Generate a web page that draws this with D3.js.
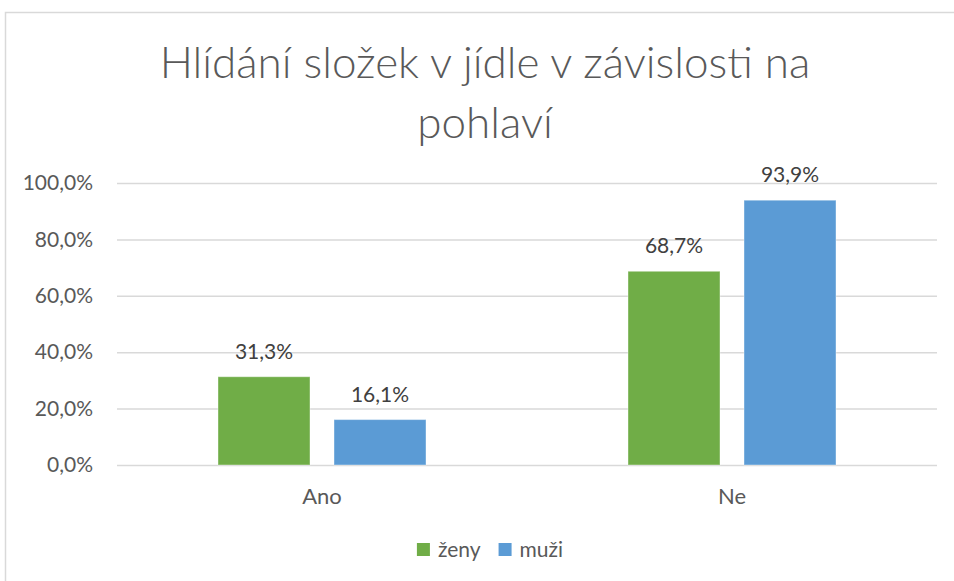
<!DOCTYPE html>
<html>
<head>
<meta charset="utf-8">
<script src="https://cdn.jsdelivr.net/npm/d3@7"></script>
<style>
  body { margin: 0; background: #fff; }
  svg { display: block; font-family: Lato, "Open Sans", sans-serif; }
</style>
</head>
<body>
<script>
// data
let categories = ["Ano", "Ne"]
let seriesNames = ["ženy", "muži"]
let zeny = [31.3, 68.7]
let muzi = [16.1, 93.9]
let yTicks = [0, 20, 40, 60, 80, 100]
let colors = ["#70ad47", "#5b9bd5"]
let titleLines = ["Hlídání složek v jídle v závislosti na", "pohlaví"]

let width = 954
let height = 581

let svg = d3.select("body")
    .append("svg")
    .attr("width", width)
    .attr("height", height)

//chart border (runs past right and bottom edge)
svg.append("rect")
    .attr("x", 5.5)
    .attr("y", 12.5)
    .attr("width", 1000)
    .attr("height", 1000)
    .attr("fill", "none")
    .attr("stroke", "#d9d9d9")
    .attr("stroke-width", 1.5)

//title
svg.append("g")
    .selectAll("text")
    .data(titleLines)
    .enter()
    .append("text")
    .attr("x", 485)
    .attr("y", (d, i) => 78 + i * 60)
    .attr("text-anchor", "middle")
    .attr("fill", "#595959")
    .style("font-size", "44px")
    .style("font-weight", 300)
    .text(d => d)

let plotLeft = 117, plotRight = 937, plotTop = 183, plotBottom = 465

let yScale = d3.scaleLinear()
    .domain([0, 100])
    .range([plotBottom, plotTop])

let xScale = d3.scaleBand()
    .domain(categories)
    .range([plotLeft, plotRight])

let xInner = d3.scaleBand()
    .domain(seriesNames)
    .range([101, 309])
    .paddingInner(0.207)

let fmt = d => d3.format(".1f")(d).replace(".", ",") + "%"

//y axis with gridlines
let yAxis = d3.axisLeft(yScale)
    .tickValues(yTicks)
    .tickSizeInner(-(plotRight - plotLeft))
    .tickSizeOuter(0)
    .tickPadding(24)
    .tickFormat(fmt)

let gy = svg.append("g")
    .attr("transform", `translate(${plotLeft}, 0)`)
    .call(yAxis)
gy.select(".domain").remove()
gy.selectAll("line")
    .attr("stroke", "#d9d9d9")
    .attr("stroke-width", 1.5)
gy.selectAll("text")
    .attr("fill", "#595959")
    .style("font-family", "Lato, sans-serif")
    .style("font-size", "21px")

//x axis labels
let xAxis = d3.axisBottom(xScale).tickSize(0).tickPadding(23)
let gx = svg.append("g")
    .attr("transform", `translate(0, ${plotBottom})`)
    .call(xAxis)
gx.select(".domain").remove()
gx.selectAll("text")
    .attr("fill", "#595959")
    .style("font-family", "Lato, sans-serif")
    .style("font-size", "22px")

//bars
let rows = []
categories.forEach((c, i) => {
    rows.push({cat: c, s: seriesNames[0], v: zeny[i], color: colors[0]})
    rows.push({cat: c, s: seriesNames[1], v: muzi[i], color: colors[1]})
})

svg.selectAll(".bar")
    .data(rows)
    .enter()
    .append("rect")
    .attr("class", "bar")
    .attr("x", d => xScale(d.cat) + xInner(d.s))
    .attr("y", d => yScale(d.v))
    .attr("width", xInner.bandwidth())
    .attr("height", d => yScale(0) - yScale(d.v))
    .attr("fill", d => d.color)
    .attr("stroke", "#ffffff")
    .attr("stroke-opacity", 0.4)

//value labels
svg.selectAll(".label")
    .data(rows)
    .enter()
    .append("text")
    .attr("class", "label")
    .attr("x", d => xScale(d.cat) + xInner(d.s) + xInner.bandwidth() / 2)
    .attr("y", d => yScale(d.v) - 18)
    .attr("text-anchor", "middle")
    .attr("fill", "#404040")
    .style("font-size", "21px")
    .text(d => fmt(d.v))

//legend
let legend = svg.append("g")
let items = legend.selectAll("g")
    .data(seriesNames)
    .enter()
    .append("g")
items.append("rect")
    .attr("width", 13)
    .attr("height", 13)
    .attr("y", 543)
    .attr("fill", (d, i) => colors[i])
items.append("text")
    .attr("x", 21)
    .attr("y", 557)
    .attr("fill", "#595959")
    .style("font-size", "21px")
    .text(d => d)

let offs = [], total = 0
items.each(function() {
    offs.push(total)
    total += 21 + d3.select(this).select("text").node().getComputedTextLength() + 18
})
total -= 18
let start = 490 - total / 2
items.attr("transform", (d, i) => `translate(${start + offs[i]}, 0)`)
</script>
</body>
</html>
